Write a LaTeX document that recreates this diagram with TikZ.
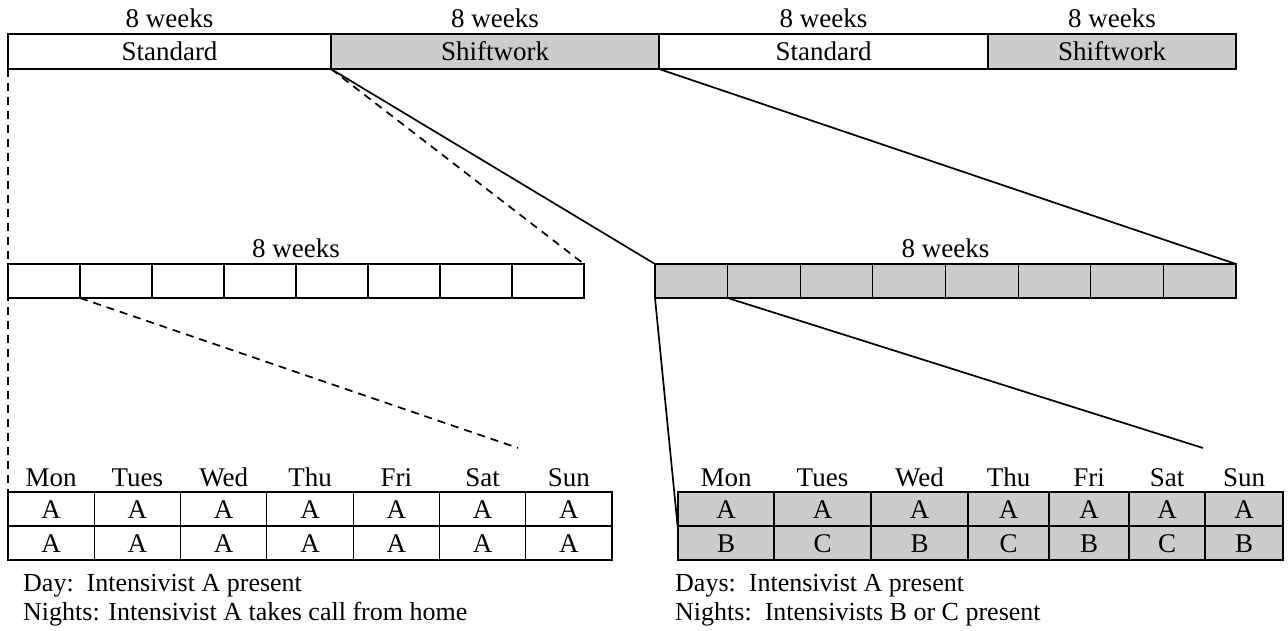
\documentclass[tikz,border=0pt]{standalone}
\usepackage{fontspec}
\setmainfont{Liberation Serif}
\begin{document}
\begin{tikzpicture}[x=1pt,y=-1pt,
  box/.style={draw, line width=1.2pt, inner sep=0pt, outer sep=0pt, anchor=north west, text height=18pt, text depth=0pt, font=\fontsize{27}{30}\selectfont},
  shaded/.style={fill=black!20},
  lbl/.style={inner sep=0pt, anchor=base, font=\fontsize{27}{30}\selectfont},
  captxt/.style={inner sep=0pt, anchor=base west, font=\fontsize{26}{30}\selectfont},
  conn/.style={line width=1.7pt},
  dconn/.style={line width=1.7pt, dash pattern=on 8pt off 6pt}]
\useasboundingbox (0,0) rectangle (1288,631);
% top bar
\node[box, minimum width=323pt, minimum height=35pt] (s1) at (8,34) {Standard};
\node[box, shaded, minimum width=328pt, minimum height=35pt] (w1) at (331,34) {Shiftwork};
\node[box, minimum width=329pt, minimum height=35pt] (s2) at (659,34) {Standard};
\node[box, shaded, minimum width=248pt, minimum height=35pt] (w2) at (988,34) {Shiftwork};
\node[lbl] (t1) at (169.5,27.5) {8 weeks};
\node[lbl] (t2) at (495,27.5) {8 weeks};
\node[lbl] (t3) at (823.5,27.5) {8 weeks};
\node[lbl] (t4) at (1112,27.5) {8 weeks};
% middle bars
\foreach \i in {1,...,8} {
  \node[box, minimum width=72pt, minimum height=34pt] (ml\i) at ({8+72*(\i-1)},264) {};
  \node[box, shaded, minimum width=72.625pt, minimum height=34pt] (mr\i) at ({655+72.625*(\i-1)},264) {};
}
\node[lbl] (m1) at (296,257.5) {8 weeks};
\node[lbl] (m2) at (945.5,257.5) {8 weeks};
% bottom left table
\foreach \c/\d in {1/Mon,2/Tues,3/Wed,4/Thu,5/Fri,6/Sat,7/Sun} {
  \node[box, minimum width=86.29pt, minimum height=34pt] (bla\c) at ({8+86.29*(\c-1)},492) {A};
  \node[box, minimum width=86.29pt, minimum height=34pt] (blb\c) at ({8+86.29*(\c-1)},526) {A};
  \node[lbl] (hl\c) at ({8+86.29*(\c-0.5)},486) {\d};
}
% bottom right table
\foreach \c/\x/\w/\d/\n in {1/678/96/Mon/B,2/774/97/Tues/C,3/871/97/Wed/B,4/968/81/Thu/C,5/1049/80/Fri/B,6/1129/76/Sat/C,7/1205/78/Sun/B} {
  \node[box, shaded, minimum width=\w pt, minimum height=34pt] (bra\c) at (\x,492) {A};
  \node[box, shaded, minimum width=\w pt, minimum height=34pt] (brb\c) at (\x,526) {\n};
  \node[lbl] (hr\c) at ({\x+\w/2},486) {\d};
}
% captions
\node[captxt] (cl1) at (23,591) {Day:~~Intensivist A present};
\node[captxt] (cl2) at (23,620) {Nights: Intensivist A takes call from home};
\node[captxt] (cr1) at (675,591) {Days:~~Intensivist A present};
\node[captxt] (cr2) at (675,620) {Nights:~~Intensivists B or C present};
% connectors
\coordinate (e1) at (518,448);
\coordinate (e2) at (678,530);
\coordinate (e3) at (1203,448);
\draw[dconn] (s1.south west) -- (blb1.south west);
\draw[dconn] (s1.south east) -- (ml8.north east);
\draw[conn] (w1.south west) -- (mr1.north west);
\draw[conn] (s2.south west) -- (mr8.north east);
\draw[dconn] (ml1.south east) -- (e1);
\draw[conn] (mr1.south west) -- (e2);
\draw[conn] (mr1.south east) -- (e3);
\end{tikzpicture}
\end{document}
